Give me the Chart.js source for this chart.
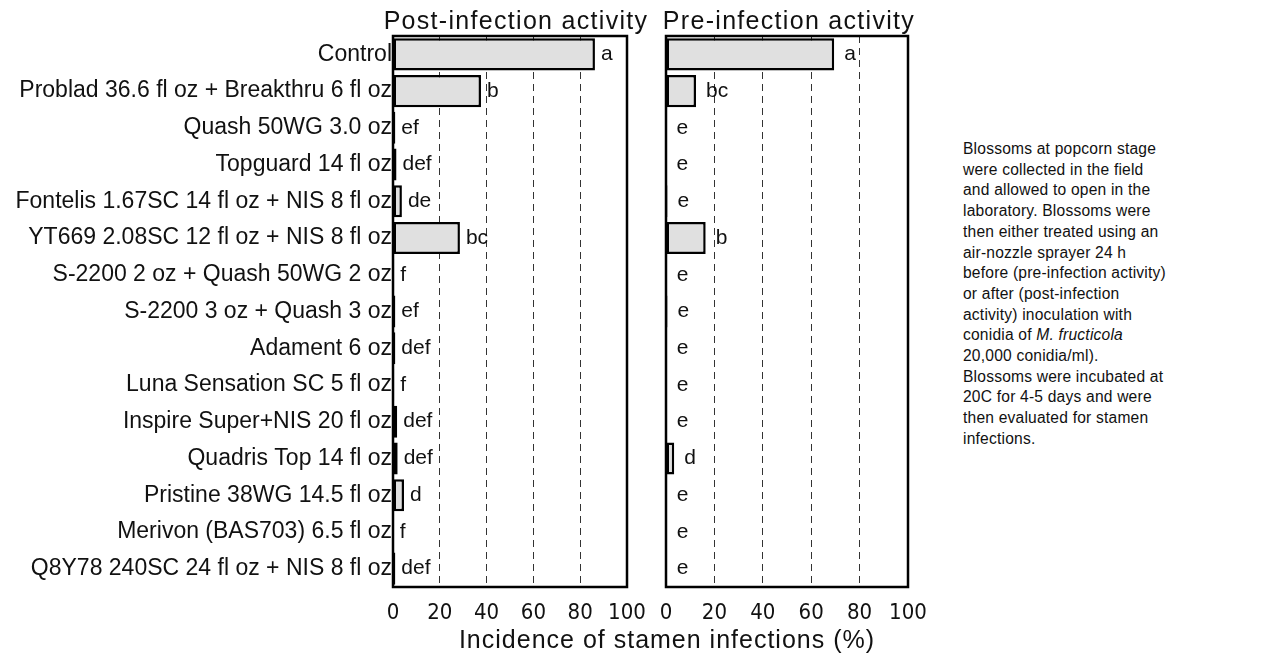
<!DOCTYPE html>
<html>
<head>
<meta charset="utf-8">
<script src="https://cdn.jsdelivr.net/npm/chart.js@4.4.1/dist/chart.umd.min.js"></script>
<style>
  body { margin: 0; background: #fff; font-family: "Liberation Sans", Arial, sans-serif; color: #111; }
  #wrap { position: relative; width: 1263px; height: 662px; overflow: hidden; }
  canvas { position: absolute; top: 0; }
  #postChart { left: 0; }
  #preChart { left: 640px; }
  .title { position: absolute; top: 5px; width: 400px; text-align: center; font-size: 25px; line-height: 30px; letter-spacing: 1.3px; white-space: nowrap; }
  #postTitle { left: 316px; }
  #preTitle { left: 589px; }
  #xTitle { position: absolute; left: 367px; width: 600px; top: 624px; text-align: center; font-size: 25px; line-height: 30px; letter-spacing: 1px; }
  #note { position: absolute; left: 963px; top: 139px; font-size: 15.6px; line-height: 20.7px; letter-spacing: 0.2px; }
</style>
</head>
<body>
<div id="wrap">
  <canvas id="postChart" width="645" height="662"></canvas>
  <canvas id="preChart" width="290" height="662"></canvas>
  <div class="title" id="postTitle">Post-infection activity</div>
  <div class="title" id="preTitle">Pre-infection activity</div>
  <div id="xTitle">Incidence of stamen infections (%)</div>
  <div id="note">Blossoms at popcorn stage<br>were collected in the field<br>and allowed to open in the<br>laboratory. Blossoms were<br>then either treated using an<br>air-nozzle sprayer 24 h<br>before (pre-infection activity)<br>or after (post-infection<br>activity) inoculation with<br>conidia of <i>M. fructicola</i><br>20,000 conidia/ml).<br>Blossoms were incubated at<br>20C for 4-5 days and were<br>then evaluated for stamen<br>infections.</div>
</div>
<script>
// Data
const treatments = [
  'Control',
  'Problad 36.6 fl oz + Breakthru 6 fl oz',
  'Quash 50WG 3.0 oz',
  'Topguard 14 fl oz',
  'Fontelis 1.67SC 14 fl oz + NIS 8 fl oz',
  'YT669 2.08SC 12 fl oz + NIS 8 fl oz',
  'S-2200 2 oz + Quash 50WG 2 oz',
  'S-2200 3 oz + Quash 3 oz',
  'Adament 6 oz',
  'Luna Sensation SC 5 fl oz',
  'Inspire Super+NIS 20 fl oz',
  'Quadris Top 14 fl oz',
  'Pristine 38WG 14.5 fl oz',
  'Merivon (BAS703) 6.5 fl oz',
  'Q8Y78 240SC 24 fl oz + NIS 8 fl oz'
];
const postValues = [86.3, 37.6, 1.0, 1.5, 3.8, 28.6, 0.5, 1.0, 1.0, 0.5, 1.8, 2.0, 4.7, 0.3, 1.0];
const postLetters = ['a', 'b', 'ef', 'def', 'de', 'bc', 'f', 'ef', 'def', 'f', 'def', 'def', 'd', 'f', 'def'];
const preValues = [69.5, 12.4, 0.2, 0.2, 0.6, 16.4, 0.3, 0.6, 0.3, 0.3, 0.3, 3.4, 0.3, 0.3, 0.3];
const preLetters = ['a', 'bc', 'e', 'e', 'e', 'b', 'e', 'e', 'e', 'e', 'e', 'd', 'e', 'e', 'e'];
const xTicks = [0, 20, 40, 60, 80, 100];

const FONT = '"Liberation Sans", Arial, sans-serif';
const NARROW = '"Liberation Sans Narrow", "DejaVu Sans Condensed", "Liberation Sans", sans-serif';

// -------------------- Plugins --------------------
const framePlugin = {
  id: 'frame',
  afterDatasetsDraw(chart){
    const a = chart.chartArea;
    const ctx = chart.ctx;
    ctx.save();
    ctx.strokeStyle = '#000';
    ctx.lineWidth = 2.5;
    ctx.strokeRect(a.left, a.top, a.right - a.left, a.bottom - a.top);
    ctx.restore();
  }
};

const letterPlugin = {
  id: 'letters',
  afterDraw(chart, args, opts){
    const ctx = chart.ctx;
    const meta = chart.getDatasetMeta(0);
    const xScale = chart.scales.x;
    ctx.save();
    ctx.font = '21px ' + FONT;
    ctx.fillStyle = '#111';
    ctx.textBaseline = 'middle';
    ctx.textAlign = 'left';
    meta.data.forEach((bar, i) => {
      const v = chart.data.datasets[0].data[i];
      const x = xScale.getPixelForValue(v) + opts.gap;
      ctx.fillText(opts.labels[i], x, bar.y);
    });
    ctx.restore();
  }
};

// -------------------- Charts --------------------
function makeChart(id, values, letters, opts){
  const ctx = document.getElementById(id).getContext('2d');
  return new Chart(ctx, {
    type: 'bar',
    data: {
      labels: treatments,
      datasets: [{
        data: values,
        backgroundColor: '#e0e0e0',
        borderColor: '#000',
        borderWidth: 2.5,
        borderSkipped: false,
        barPercentage: 0.9,
        categoryPercentage: 0.97
      }]
    },
    options: {
      indexAxis: 'y',
      responsive: false,
      animation: false,
      layout: { padding: { left: 0, right: opts.padRight, top: 36, bottom: 0 } },
      plugins: {
        legend: { display: false },
        tooltip: { enabled: false },
        letters: { labels: letters, gap: opts.gap }
      },
      scales: {
        x: {
          min: 0,
          max: 100,
          afterBuildTicks: scale => { scale.ticks = xTicks.map(v => ({ value: v })); },
          afterFit: scale => {
            scale.height = 75;
            scale.paddingLeft = 0;
            scale.paddingRight = 0;
          },
          grid: {
            drawTicks: false,
            lineWidth: 1,
            color: c => (c.tick && (c.tick.value === 0 || c.tick.value === 100)) ? 'rgba(0,0,0,0)' : '#333'
          },
          border: { display: false, dash: [7, 5] },
          ticks: {
            padding: 13,
            color: '#111',
            maxRotation: 0,
            minRotation: 0,
            autoSkip: false,
            font: { family: NARROW, size: 22 }
          }
        },
        y: {
          afterFit: scale => { scale.width = opts.yWidth; },
          grid: { display: false, drawTicks: false },
          border: { display: false },
          ticks: {
            display: opts.showLabels,
            padding: 1,
            color: '#111',
            autoSkip: false,
            font: { family: FONT, size: 23 }
          }
        }
      }
    },
    plugins: [framePlugin, letterPlugin]
  });
}

makeChart('postChart', postValues, postLetters, {
  yWidth: 393, padRight: 18, gap: 6, showLabels: true
});
makeChart('preChart', preValues, preLetters, {
  yWidth: 26, padRight: 22, gap: 10, showLabels: false
});
</script>
</body>
</html>
